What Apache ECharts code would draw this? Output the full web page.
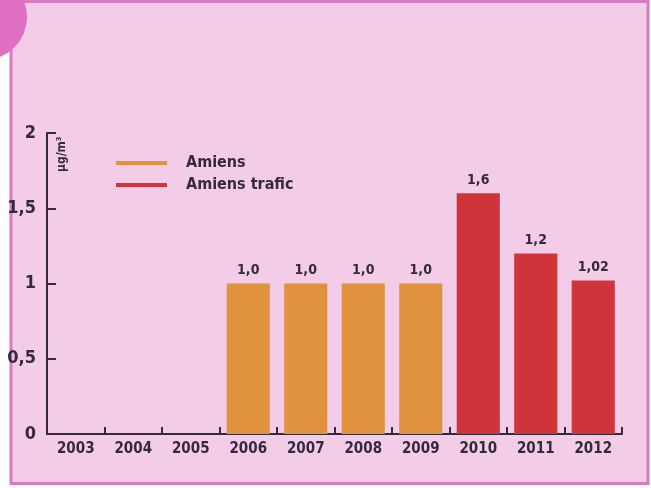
<!DOCTYPE html>
<html>
<head>
<meta charset="utf-8">
<script src="https://cdn.jsdelivr.net/npm/echarts@6/dist/echarts.min.js"></script>
<style>
  html, body { margin: 0; padding: 0; background: #ffffff; }
  #chart { width: 651px; height: 488px; }
</style>
</head>
<body>
<div id="chart"></div>
<script>
// Years on the category axis
const years = ['2003', '2004', '2005', '2006', '2007', '2008', '2009', '2010', '2011', '2012'];
// Annual mean, µg/m³ (null where the station has no value)
const amiens = [null, null, null, 1.0, 1.0, 1.0, 1.0, null, null, null];
const amiensTrafic = [null, null, null, null, null, null, null, 1.6, 1.2, 1.02];
// Value axis ticks
const yTicks = [0, 0.5, 1, 1.5, 2];

const FONT = '"DejaVu Sans Condensed", "Liberation Sans Narrow", sans-serif';
const INK = '#352a3a';
const ORANGE = '#e0923e';
const RED = '#cf343a';

const fr = v => String(v).replace('.', ',');
const barLabel = p => (Number.isInteger(p.value) ? p.value.toFixed(1) : String(p.value)).replace('.', ',');

const chart = echarts.init(document.getElementById('chart'));
chart.setOption({
  backgroundColor: '#ffffff',
  animation: false,
  graphic: [
    { type: 'rect', z: -10, shape: { x: 11, y: 1.5, width: 637, height: 482 },
      style: { fill: '#f3cde7', stroke: '#d97ac4', lineWidth: 3 } },
    { type: 'circle', z: -5, shape: { cx: -16, cy: 17, r: 43 },
      style: { fill: '#df6fc0' } },
    { type: 'text', x: 68, y: 172, rotation: Math.PI / 2, z: 10,
      style: { text: 'µg/m³', font: 'bold 12px ' + FONT, fill: INK, align: 'left', verticalAlign: 'bottom' } }
  ],
  legend: {
    orient: 'vertical',
    left: 111, top: 150,
    itemWidth: 51, itemHeight: 4, itemGap: 6,
    icon: 'rect',
    textStyle: { fontFamily: FONT, fontWeight: 'bold', fontSize: 16, color: INK, padding: [0, 0, 0, 14] },
    data: ['Amiens', 'Amiens trafic']
  },
  grid: { left: 47, right: 29, top: 133, bottom: 54, containLabel: false },
  xAxis: {
    type: 'category',
    data: years,
    axisLine: { lineStyle: { color: INK, width: 2 } },
    axisTick: { show: true, inside: true, length: 7, lineStyle: { color: INK, width: 2 } },
    axisLabel: { fontFamily: FONT, fontWeight: 'bold', fontSize: 15, color: INK, margin: 8 }
  },
  yAxis: {
    type: 'value',
    min: yTicks[0], max: yTicks[yTicks.length - 1], interval: 0.5,
    axisLine: { show: true, lineStyle: { color: INK, width: 2 } },
    axisTick: { show: true, inside: true, length: 9, lineStyle: { color: INK, width: 2 } },
    splitLine: { show: false },
    axisLabel: { fontFamily: FONT, fontWeight: 'bold', fontSize: 18, color: INK, margin: 11, formatter: fr }
  },
  series: [
    { name: 'Amiens', type: 'bar', stack: 'v', data: amiens, barWidth: '75%',
      itemStyle: { color: ORANGE },
      label: { show: true, position: 'top', distance: 6, formatter: barLabel,
        fontFamily: FONT, fontWeight: 'bold', fontSize: 14, color: INK } },
    { name: 'Amiens trafic', type: 'bar', stack: 'v', data: amiensTrafic, barWidth: '75%',
      itemStyle: { color: RED },
      label: { show: true, position: 'top', distance: 6, formatter: barLabel,
        fontFamily: FONT, fontWeight: 'bold', fontSize: 14, color: INK } }
  ]
});
</script>
</body>
</html>
